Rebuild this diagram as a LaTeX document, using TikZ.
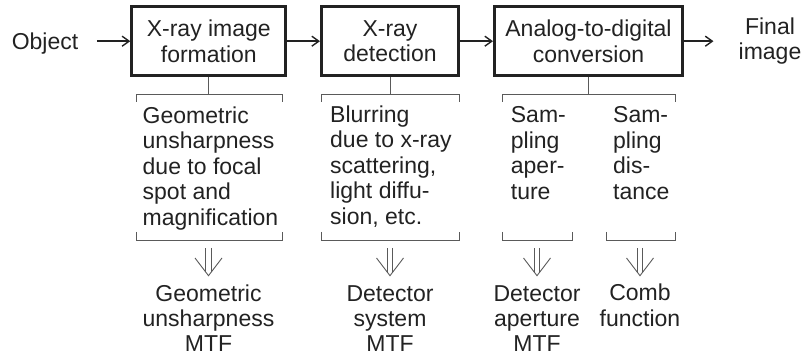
\documentclass[tikz,border=0pt]{standalone}
\usepackage{fontspec}
\setmainfont{Liberation Sans}
\usetikzlibrary{arrows.meta}
\definecolor{ink}{HTML}{222222}
\definecolor{rule}{HTML}{5A5A5A}
\newcommand{\bt}{95}
\newcommand{\bb}{241}

\begin{document}
\begin{tikzpicture}[x=1pt, y=-1pt, font=\fontsize{23}{25.5}\selectfont, text=ink,
    rect/.style={draw=ink, line width=3pt, rectangle, minimum height=69pt, inner sep=0pt, align=center},
    lbl/.style={inner sep=0pt, align=left, anchor=base west},
    res/.style={inner sep=0pt, align=center, anchor=base},
    flow/.style={draw=ink, line width=1.4pt, -{Straight Barb[length=7pt,width=10pt]}},
    stem/.style={draw=rule, line width=1pt},
    dbl/.style={draw=rule, double, double distance=4.6pt, line width=0.9pt, shorten >=3.7pt},
    vee/.style={draw=rule, line width=0.9pt}]
    \useasboundingbox (0,0) rectangle (804,358);

    % Chain
    \node[inner sep=0pt, anchor=base] (obj) at (45,49.5) {Object};
    \node[rect, minimum width=154pt] (box-1) at (208.8,41.2) {X-ray image\\formation};
    \node[rect, minimum width=137pt] (box-2) at (390,41.2) {X-ray\\detection};
    \node[rect, minimum width=188pt] (box-3) at (588.5,41.2) {Analog-to-digital\\conversion};
    \node[inner sep=0pt, align=center] (final) at (770,41.2) {Final\\image};

    \draw[flow, shorten <=18.5pt] (obj.east |- box-1) -- (box-1);
    \draw[flow] (box-1) -- (box-2);
    \draw[flow] (box-2) -- (box-3);
    \draw[flow, shorten >=25pt] (box-3) -- (final);

    % Upper brackets
    \coordinate (br-1-l) at (136,\bt); \coordinate (br-1-r) at (282,\bt);
    \coordinate (br-2-l) at (321,\bt); \coordinate (br-2-r) at (459,\bt);
    \coordinate (br-3-l) at (502,\bt); \coordinate (br-3-r) at (675,\bt);
    \draw[stem] (box-1) -- (box-1 |- br-1-l);
    \draw[stem] (box-2) -- (box-2 |- br-2-l);
    \draw[stem] (box-3) -- (box-3 |- br-3-l);
    \draw[stem] (br-1-l) ++(0,7) -- (br-1-l) -- (br-1-r) -- ++(0,7);
    \draw[stem] (br-2-l) ++(0,7) -- (br-2-l) -- (br-2-r) -- ++(0,7);
    \draw[stem] (br-3-l) ++(0,7) -- (br-3-l) -- (br-3-r) -- ++(0,7);

    % Causes (placed at the baseline of the last line)
    \node[lbl] (desc-1) at (142.5,225.5) {Geometric\\unsharpness\\due to focal\\spot and\\magnification};
    \node[lbl] (desc-2) at (330,224.5) {Blurring\\due to x-ray\\scattering,\\light diffu-\\sion, etc.};
    \node[lbl] (desc-3) at (510.7,199.5) {Sam-\\pling\\aper-\\ture};
    \node[lbl] (desc-4) at (613,199.5) {Sam-\\pling\\dis-\\tance};

    % Lower brackets
    \coordinate (bb-1-l) at (136,\bb); \coordinate (bb-1-r) at (282,\bb);
    \coordinate (bb-2-l) at (321,\bb); \coordinate (bb-2-r) at (459,\bb);
    \coordinate (bb-3-l) at (502,\bb); \coordinate (bb-3-r) at (572,\bb);
    \coordinate (bb-4-l) at (606,\bb); \coordinate (bb-4-r) at (675,\bb);
    \draw[stem] (bb-1-l) ++(0,-9) -- (bb-1-l) -- (bb-1-r) -- ++(0,-9);
    \draw[stem] (bb-2-l) ++(0,-9) -- (bb-2-l) -- (bb-2-r) -- ++(0,-9);
    \draw[stem] (bb-3-l) ++(0,-9) -- (bb-3-l) -- (bb-3-r) -- ++(0,-9);
    \draw[stem] (bb-4-l) ++(0,-9) -- (bb-4-l) -- (bb-4-r) -- ++(0,-9);

    % Double arrows
    \coordinate (da-1) at (208.5,248); \coordinate (tip-1) at (208.5,275.7);
    \coordinate (da-2) at (390,248);   \coordinate (tip-2) at (390,275.7);
    \coordinate (da-3) at (537,248);   \coordinate (tip-3) at (537,275.7);
    \coordinate (da-4) at (640,248);   \coordinate (tip-4) at (640,275.7);
    \draw[dbl] (da-1) -- (tip-1);
    \draw[dbl] (da-2) -- (tip-2);
    \draw[dbl] (da-3) -- (tip-3);
    \draw[dbl] (da-4) -- (tip-4);
    \draw[vee] (tip-1) ++(-13.5,-17.7) -- (tip-1) -- ++(13.5,-17.7);
    \draw[vee] (tip-2) ++(-13.5,-17.7) -- (tip-2) -- ++(13.5,-17.7);
    \draw[vee] (tip-3) ++(-13.5,-17.7) -- (tip-3) -- ++(13.5,-17.7);
    \draw[vee] (tip-4) ++(-13.5,-17.7) -- (tip-4) -- ++(13.5,-17.7);

    % Transfer functions (placed at the baseline of the last line)
    \node[res] (mtf-1) at (208.5,352) {Geometric\\unsharpness\\MTF};
    \node[res] (mtf-2) at (390,352) {Detector\\system\\MTF};
    \node[res] (mtf-3) at (537,352) {Detector\\aperture\\MTF};
    \node[res] (mtf-4) at (640,326.5) {Comb\\function};

\end{tikzpicture}
\end{document}
